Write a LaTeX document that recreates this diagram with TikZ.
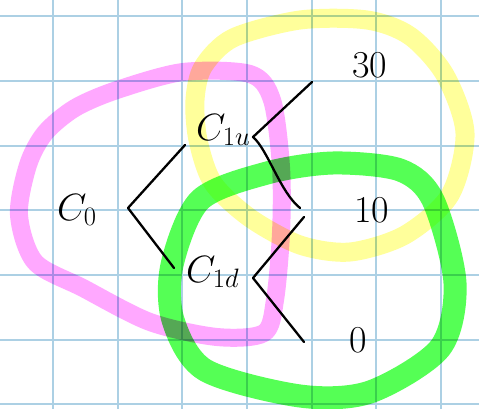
\RequirePackage{fix-cm}
\documentclass[tikz,border=0pt]{standalone}
\usepackage{xcolor}
\usepackage{tikz}
\usetikzlibrary{positioning}
\definecolor{gridblue}{RGB}{172,208,228}
\definecolor{penpink}{RGB}{255,168,255}
\definecolor{penyellow}{RGB}{255,255,155}
\definecolor{pengreen}{RGB}{85,255,85}

\begin{document}
\begin{tikzpicture}[
    x=1pt, y=-1pt,
    gridline/.style={draw=gridblue, line width=1.4pt},
    ring/.style={line width=#1, line join=round, blend mode=multiply},
    branch/.style={draw, line width=2.3pt, line cap=round, line join=round},
    lbl/.style={inner sep=0pt, anchor=base west, font=\fontsize{38}{44}\selectfont}
]
\useasboundingbox (0,0) rectangle (479,409);
\fill[white] (0,0) rectangle (479,409);
\foreach \gx in {53,118,182,247,312,376,441} \draw[gridline] (\gx,0) -- (\gx,409);
\foreach \gy in {16,81,146,210,275,340,404} \draw[gridline] (0,\gy) -- (479,\gy);

\draw[ring=18pt, draw=penpink] plot[smooth cycle] coordinates {(19,215) (28,165) (45,133) (75,108) (117,90) (183,72) (250,74) (272,100) (281,167) (281,233) (275,300) (264,333) (217,337) (150,322) (83,288) (35,262)};
\draw[ring=19pt, draw=penyellow] plot[smooth cycle] coordinates {(203,67) (233,38) (300,20) (367,20) (410,36) (445,75) (465,133) (450,195) (405,235) (350,252) (300,245) (250,218) (213,183) (198,140) (195,100)};
\draw[ring=23pt, draw=pengreen] plot[smooth cycle] coordinates {(200,200) (267,173) (333,163) (400,170) (433,200) (455,283) (440,348) (370,392) (300,396) (205,370) (173,320) (172,265)};

\node[lbl] (c0) at (57,220) {$C_0$};
\node[lbl] (cu) at (196,140) {$C_{1u}$};
\node[lbl] (cd) at (186,282) {$C_{1d}$};
\node[lbl] (high) at (352,78) {30};
\node[lbl] (middle) at (354,222) {10};
\node[lbl] (low) at (349,352) {0};

\coordinate (c0v) at (128,208);
\coordinate (c0a) at (185,145);
\coordinate (c0b) at (174,268);
\coordinate (cuv) at (253,137);
\coordinate (cua) at (312,82);
\coordinate (cub) at (300,208);
\coordinate (cdv) at (253,278);
\coordinate (cda) at (304,217);
\coordinate (cdb) at (304,342);

\draw[branch] (c0a) -- (c0v) -- (c0b);
\draw[branch] (cua) -- (cuv) .. controls (268,150) and (280,192) .. (cub);
\draw[branch] (cda) -- (cdv) -- (cdb);
\end{tikzpicture}
\end{document}
